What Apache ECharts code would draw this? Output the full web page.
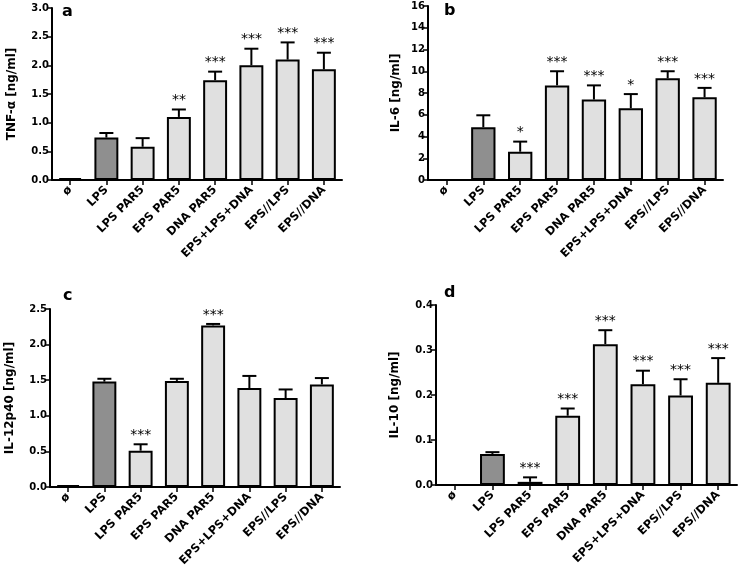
<!DOCTYPE html>
<html><head><meta charset="utf-8">
<script src="https://cdn.jsdelivr.net/npm/echarts@6/dist/echarts.min.js"></script>
<style>html,body{margin:0;padding:0;background:#fff}#c{width:738px;height:575px}</style>
</head><body><div id="c"></div>
<script>
var categories = ['ø','LPS','LPS PAR5','EPS PAR5','DNA PAR5','EPS+LPS+DNA','EPS//LPS','EPS//DNA'];

var tnfMean = [0.01,0.74,0.58,1.10,1.74,2.00,2.10,1.93];
var tnfErr  = [0,0.08,0.15,0.13,0.15,0.29,0.30,0.29];
var tnfSig  = ['','','','**','***','***','***','***'];

var il6Mean = [0,4.85,2.6,8.7,7.4,6.6,9.35,7.6];
var il6Err  = [0,1.1,0.93,1.3,1.3,1.3,0.65,0.87];
var il6Sig  = ['','','*','***','***','*','***','***'];

var il12Mean = [0.01,1.48,0.51,1.49,2.27,1.39,1.25,1.44];
var il12Err  = [0,0.04,0.09,0.03,0.02,0.17,0.12,0.09];
var il12Sig  = ['','','***','','***','','',''];

var il10Mean = [0,0.069,0.007,0.154,0.313,0.224,0.199,0.227];
var il10Err  = [0,0.004,0.010,0.016,0.031,0.030,0.036,0.055];
var il10Sig  = ['','','***','***','***','***','***','***'];

var panels = [
  {letter:'a', name:'TNF-α [ng/ml]', mean:tnfMean, err:tnfErr, sig:tnfSig, max:3, interval:0.5, dec:1,
   grid:{left:52,top:8,width:290,height:172}, nameGap:34, lx:62, ly:4, minH:2},
  {letter:'b', name:'IL-6 [ng/ml]', mean:il6Mean, err:il6Err, sig:il6Sig, max:16, interval:2, dec:0,
   grid:{left:428,top:6,width:295,height:174}, nameGap:26, lx:444, ly:3, minH:0},
  {letter:'c', name:'IL-12p40 [ng/ml]', mean:il12Mean, err:il12Err, sig:il12Sig, max:2.5, interval:0.5, dec:1,
   grid:{left:50,top:309,width:290,height:178}, nameGap:34, lx:63, ly:288, minH:2},
  {letter:'d', name:'IL-10 [ng/ml]', mean:il10Mean, err:il10Err, sig:il10Sig, max:0.4, interval:0.1, dec:1,
   grid:{left:436,top:305,width:301,height:180}, nameGap:35, lx:444, ly:285, minH:0}
];

var FONT = '"DejaVu Sans", Verdana, sans-serif';
var grids=[], xAxes=[], yAxes=[], series=[], graphics=[];
panels.forEach(function(p, k){
  grids.push(p.grid);
  xAxes.push({type:'category', gridIndex:k, data:categories,
    axisLine:{lineStyle:{color:'#000',width:2}},
    axisTick:{show:true, alignWithLabel:true, length:5, lineStyle:{color:'#000',width:1.5}},
    axisLabel:{rotate:45, interval:0, color:'#000', fontWeight:'bold', fontSize:11.5, fontFamily:FONT, margin:8}
  });
  yAxes.push({type:'value', gridIndex:k, min:0, max:p.max, interval:p.interval,
    name:p.name, nameLocation:'middle', nameGap:p.nameGap,
    nameTextStyle:{color:'#000', fontWeight:'bold', fontSize:12, fontFamily:FONT},
    axisLine:{show:true, lineStyle:{color:'#000',width:2}},
    axisTick:{show:true, length:5, lineStyle:{color:'#000',width:1.5}},
    splitLine:{show:false},
    axisLabel:{color:'#000', fontWeight:'bold', fontSize:10, fontFamily:FONT, margin:3,
      formatter:function(v){return v.toFixed(p.dec);}}
  });
  series.push({type:'bar', xAxisIndex:k, yAxisIndex:k, barWidth:'66%', barMinHeight:p.minH,
    data:p.mean.map(function(v,i){
      return {value:v, itemStyle:{color: i===1 ? '#8f8f8f' : '#e0e0e0'}};
    }),
    itemStyle:{borderColor:'#000', borderWidth:2},
    animation:false
  });
  series.push({type:'custom', xAxisIndex:k, yAxisIndex:k, z:5,
    data:p.mean.map(function(v,i){return [i, v, p.err[i]];}),
    renderItem:function(params, api){
      var i = api.value(0), m = api.value(1), e = api.value(2);
      var s = p.sig[params.dataIndex];
      var children = [];
      var base = api.coord([i, m]);
      var top = api.coord([i, m + e]);
      if (e > 0) {
        children.push({type:'line', shape:{x1:base[0], y1:base[1], x2:top[0], y2:top[1]},
          style:{stroke:'#000', lineWidth:2}});
        children.push({type:'line', shape:{x1:top[0]-7, y1:top[1], x2:top[0]+7, y2:top[1]},
          style:{stroke:'#000', lineWidth:2}});
      }
      if (s) {
        children.push({type:'text', x:top[0], y:top[1]-2,
          style:{text:s, fill:'#000', font:'14px ' + FONT, textAlign:'center', textVerticalAlign:'bottom'}});
      }
      return {type:'group', children:children};
    },
    animation:false
  });
  graphics.push({type:'text', left:p.lx, top:p.ly,
    style:{text:p.letter, fill:'#000', font:'bold 16px ' + FONT}});
});

var chart = echarts.init(document.getElementById('c'));
chart.setOption({animation:false, grid:grids, xAxis:xAxes, yAxis:yAxes, series:series, graphic:graphics});
</script></body></html>
